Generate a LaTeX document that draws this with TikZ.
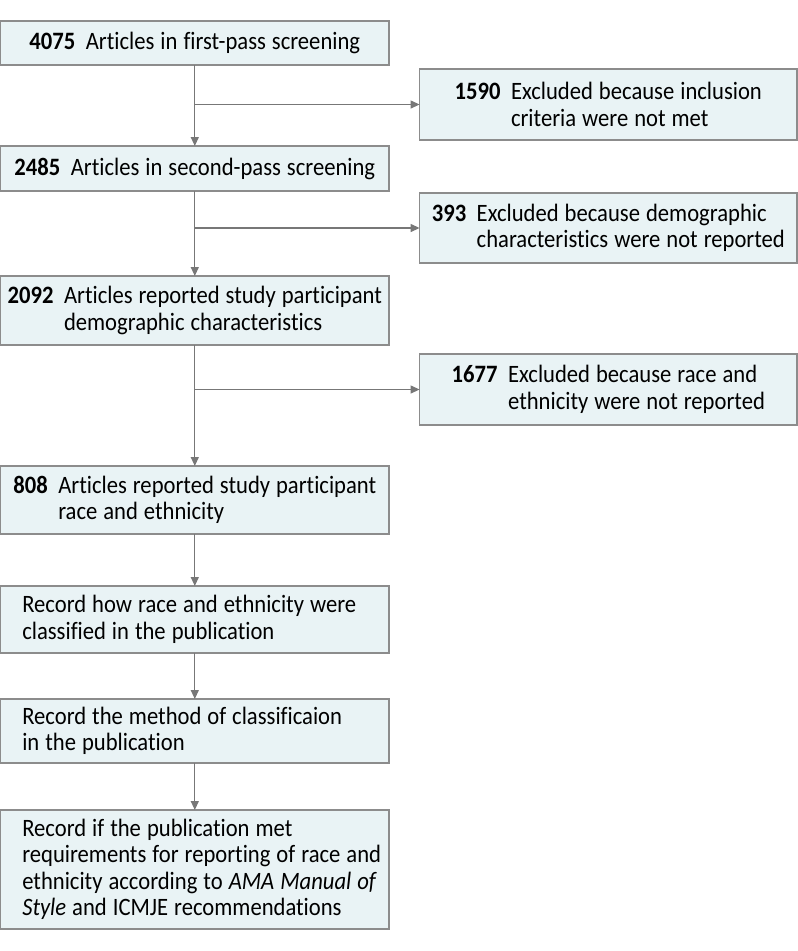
\documentclass[tikz,border=0pt]{standalone}
\usepackage{fontspec}
\setmainfont{Carlito}[FakeStretch=0.905, Ligatures=NoCommon]
\usetikzlibrary{arrows.meta}
\definecolor{boxfill}{HTML}{E9F3F5}
\definecolor{boxline}{HTML}{8C8C8C}
\definecolor{arrline}{HTML}{777777}
\newcommand{\nm}[1]{\textbf{#1}\hspace{0.42em}}
\newcommand{\ind}[1]{\hphantom{\textbf{#1}\hspace{0.42em}}}
\newskip\myspace
\myspace=6pt plus 1pt minus 1pt
\newcommand{\boxfont}{\fontsize{25}{26.5}\selectfont\spaceskip=\myspace}
\begin{document}
\begin{tikzpicture}[x=1pt,y=-1pt,
  flowbox/.style={draw=boxline, fill=boxfill, line width=1.2pt, inner sep=0pt, outer sep=0pt,
    font=\boxfont, align=left, anchor=north west},
  mainbox/.style={flowbox, minimum width=388.4pt},
  sidebox/.style={flowbox, minimum width=377.4pt},
  leftbox/.style={flowbox, align=flush left, text width=345pt, inner xsep=21.7pt},
  arr/.style={draw=arrline, line width=1.2pt, -{Triangle[length=9pt,width=8pt]}}
]
\useasboundingbox (0,0) rectangle (798,951);
\node[mainbox, minimum height=44pt] (b1) at (0.6,21) {\nm{4075}Articles in first-pass screening};
\node[mainbox, minimum height=45pt] (b2) at (0.6,146) {\nm{2485}Articles in second-pass screening};
\node[mainbox, minimum height=69pt] (b3) at (0.6,276) {\nm{2092}Articles reported study participant\\\ind{2092}demographic characteristics};
\node[mainbox, minimum height=68pt] (b4) at (0.6,466) {\nm{808}Articles reported study participant\\\ind{808}race and ethnicity};
\node[leftbox, minimum height=67pt] (b5) at (0.6,586) {\mbox{Record how race and ethnicity were}\\\mbox{classified in the publication}};
\node[leftbox, minimum height=64pt] (b6) at (0.6,699) {\mbox{Record the method of classificaion}\\\mbox{in the publication}};
\node[leftbox, minimum height=119pt] (b7) at (0.6,810) {\mbox{Record if the publication met}\\\mbox{requirements for reporting of race and}\\\mbox{ethnicity according to \textit{AMA Manual of}}\\\mbox{\textit{Style} and ICMJE recommendations}};
\node[sidebox, minimum height=71pt] (r1) at (419.6,69) {\nm{1590}Excluded because inclusion\\\ind{1590}criteria were not met};
\node[sidebox, minimum height=70pt] (r2) at (419.6,193) {\nm{393}Excluded because demographic\\\ind{393}characteristics were not reported};
\node[sidebox, minimum height=71pt] (r3) at (419.6,354) {\nm{1677}Excluded because race and\\\ind{1677}ethnicity were not reported};
\draw[arr] (b1.south) -- (b2.north);
\draw[arr] (b2.south) -- (b3.north);
\draw[arr] (b3.south) -- (b4.north);
\draw[arr] (b4.south) -- (b5.north);
\draw[arr] (b5.south) -- (b6.north);
\draw[arr] (b6.south) -- (b7.north);
\draw[arr] (b1.south |- r1.west) -- (r1.west);
\draw[arr] (b2.south |- r2.west) -- (r2.west);
\draw[arr] (b3.south |- r3.west) -- (r3.west);
\end{tikzpicture}
\end{document}
